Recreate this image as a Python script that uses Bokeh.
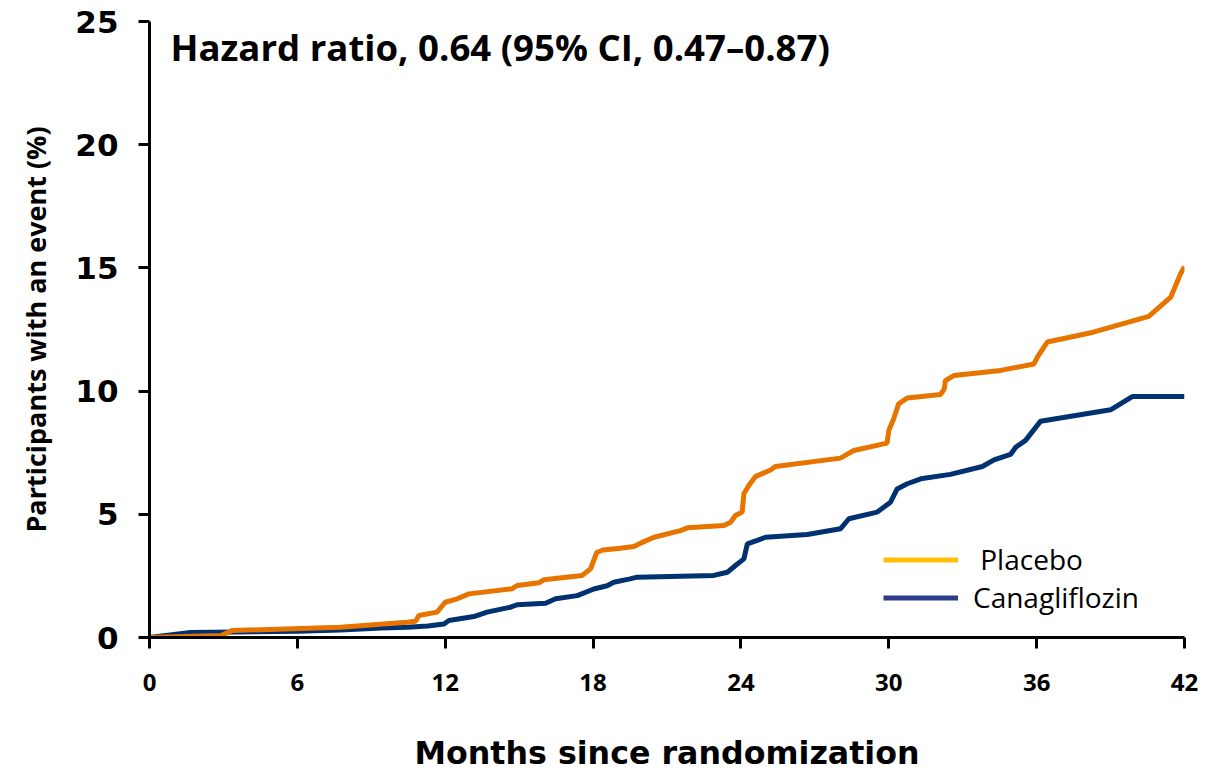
from bokeh.plotting import figure
from bokeh.models import Range1d, FixedTicker, Label, Legend, LegendItem
from bokeh.embed import file_html
from bokeh.resources import INLINE

# ---- data ----
placebo_months = [0, 2.9, 3.35, 7.75, 10.46, 10.8, 10.93, 11.67, 12.0, 12.49, 12.96,
                  14.72, 14.92, 15.8, 16.0, 17.56, 17.9, 18.15, 18.4, 19.1, 19.66,
                  19.93, 20.47, 21.55, 21.82, 23.31, 23.58, 23.78, 24.05, 24.12, 24.32,
                  24.59, 25.2, 25.4, 28.04, 28.3, 28.58, 29.93, 30.0, 30.2, 30.4, 30.75,
                  32.1, 32.25, 32.3, 32.64, 34.54, 35.89, 36.03, 36.43, 38.3, 40.55,
                  41.44, 41.84, 42.0]
placebo_pct = [0, 0.08, 0.28, 0.42, 0.62, 0.66, 0.89, 1.03, 1.43, 1.57, 1.77,
               1.98, 2.11, 2.22, 2.34, 2.52, 2.79, 3.45, 3.55, 3.62, 3.69,
               3.83, 4.07, 4.34, 4.45, 4.55, 4.68, 4.95, 5.09, 5.83, 6.17,
               6.53, 6.8, 6.94, 7.28, 7.43, 7.59, 7.89, 8.4, 8.88, 9.48, 9.72,
               9.86, 10.09, 10.43, 10.63, 10.84, 11.1, 11.38, 11.99, 12.39, 13.03,
               13.81, 14.76, 15.05]

cana_months = [0, 1.66, 6.0, 7.75, 9.4, 10.46, 11.3, 11.95, 12.15, 13.16, 13.7, 14.65,
               14.92, 16.07, 16.48, 17.36, 18.03, 18.57, 18.84, 19.5, 19.79, 22.9,
               23.45, 23.78, 24.12, 24.26, 24.66, 25.0, 26.69, 28.04, 28.38, 29.53,
               30.07, 30.34, 30.75, 31.3, 32.5, 33.8, 34.27, 34.94, 35.15, 35.55,
               36.16, 39.0, 39.88, 42.0]
cana_pct = [0, 0.2, 0.25, 0.3, 0.39, 0.42, 0.47, 0.55, 0.69, 0.85, 1.03, 1.23,
            1.33, 1.39, 1.57, 1.7, 1.97, 2.1, 2.24, 2.38, 2.45, 2.52,
            2.65, 2.92, 3.19, 3.8, 3.94, 4.07, 4.18, 4.41, 4.82, 5.09,
            5.49, 6.03, 6.24, 6.44, 6.62, 6.94, 7.21, 7.43, 7.72, 8.0,
            8.78, 9.24, 9.78, 9.78]

x_ticks = [0, 6, 12, 18, 24, 30, 36, 42]
y_ticks = [0, 5, 10, 15, 20, 25]
series_names = [" Placebo", "Canagliflozin"]
title_text = "Hazard ratio, 0.64 (95% CI, 0.47\u20130.87)"

# ---- styles ----
PLACEBO_LINE = "#E87400"
CANA_LINE = "#003170"
PLACEBO_LEG = "#FFC000"
CANA_LEG = "#2E3C8C"

p = figure(width=1222, height=773, output_backend="svg", toolbar_location=None,
           x_range=Range1d(0, 42), y_range=Range1d(0, 25),
           min_border_left=149, min_border_right=38, min_border_top=21, min_border_bottom=136)
p.outline_line_color = None
p.xgrid.visible = False
p.ygrid.visible = False
p.background_fill_color = "white"

p.line(cana_months, cana_pct, line_color=CANA_LINE, line_width=5)
p.line(placebo_months, placebo_pct, line_color=PLACEBO_LINE, line_width=5)

# legend proxies (the reference legend uses different swatch colours); single point => nothing drawn
r1 = p.line(placebo_months[:1], placebo_pct[:1], line_color=PLACEBO_LEG, line_width=5)
r2 = p.line(cana_months[:1], cana_pct[:1], line_color=CANA_LEG, line_width=5)
legend = Legend(items=[LegendItem(label=series_names[0], renderers=[r1]),
                       LegendItem(label=series_names[1], renderers=[r2])],
                location=(734, 21), padding=0, margin=0, spacing=0,
                glyph_width=75, glyph_height=37, label_height=37, label_standoff=15,
                label_text_font="Open Sans", label_text_font_size="28px",
                label_text_color="black",
                border_line_alpha=0, background_fill_alpha=0)
p.add_layout(legend)

for ax in (p.xaxis[0], p.yaxis[0]):
    ax.axis_line_width = 3
    ax.major_tick_line_width = 3
    ax.major_tick_out = 11
    ax.major_tick_in = 0
    ax.minor_tick_line_color = None
    ax.axis_line_color = "black"
    ax.major_tick_line_color = "black"
    ax.major_label_text_color = "black"
    ax.axis_label_text_color = "black"

xa = p.xaxis[0]
xa.ticker = FixedTicker(ticks=x_ticks)
xa.major_label_text_font = "Open Sans"
xa.major_label_text_font_style = "bold"
xa.major_label_text_font_size = "24px"
xa.major_label_standoff = 25
xa.axis_label = "Months since randomization"
xa.axis_label_text_font = "DejaVu Sans"
xa.axis_label_text_font_style = "bold"
xa.axis_label_text_font_size = "31.7px"
xa.axis_label_standoff = 41

ya = p.yaxis[0]
ya.ticker = FixedTicker(ticks=y_ticks)
ya.major_label_text_font = "DejaVu Sans"
ya.major_label_text_font_style = "bold"
ya.major_label_text_font_size = "31px"
ya.major_label_standoff = 20
ya.axis_label = "Participants with an event (%)"
ya.axis_label_text_font = "Open Sans"
ya.axis_label_text_font_style = "bold"
ya.axis_label_text_font_size = "27px"
ya.axis_label_standoff = 18

title = Label(x=0.85, y=23.97, text=title_text, text_font="Open Sans", text_font_style="bold",
              text_font_size="36.6px", text_align="left", text_baseline="alphabetic",
              text_color="black")
p.add_layout(title)

open("out.html", "w").write(file_html(p, INLINE))
